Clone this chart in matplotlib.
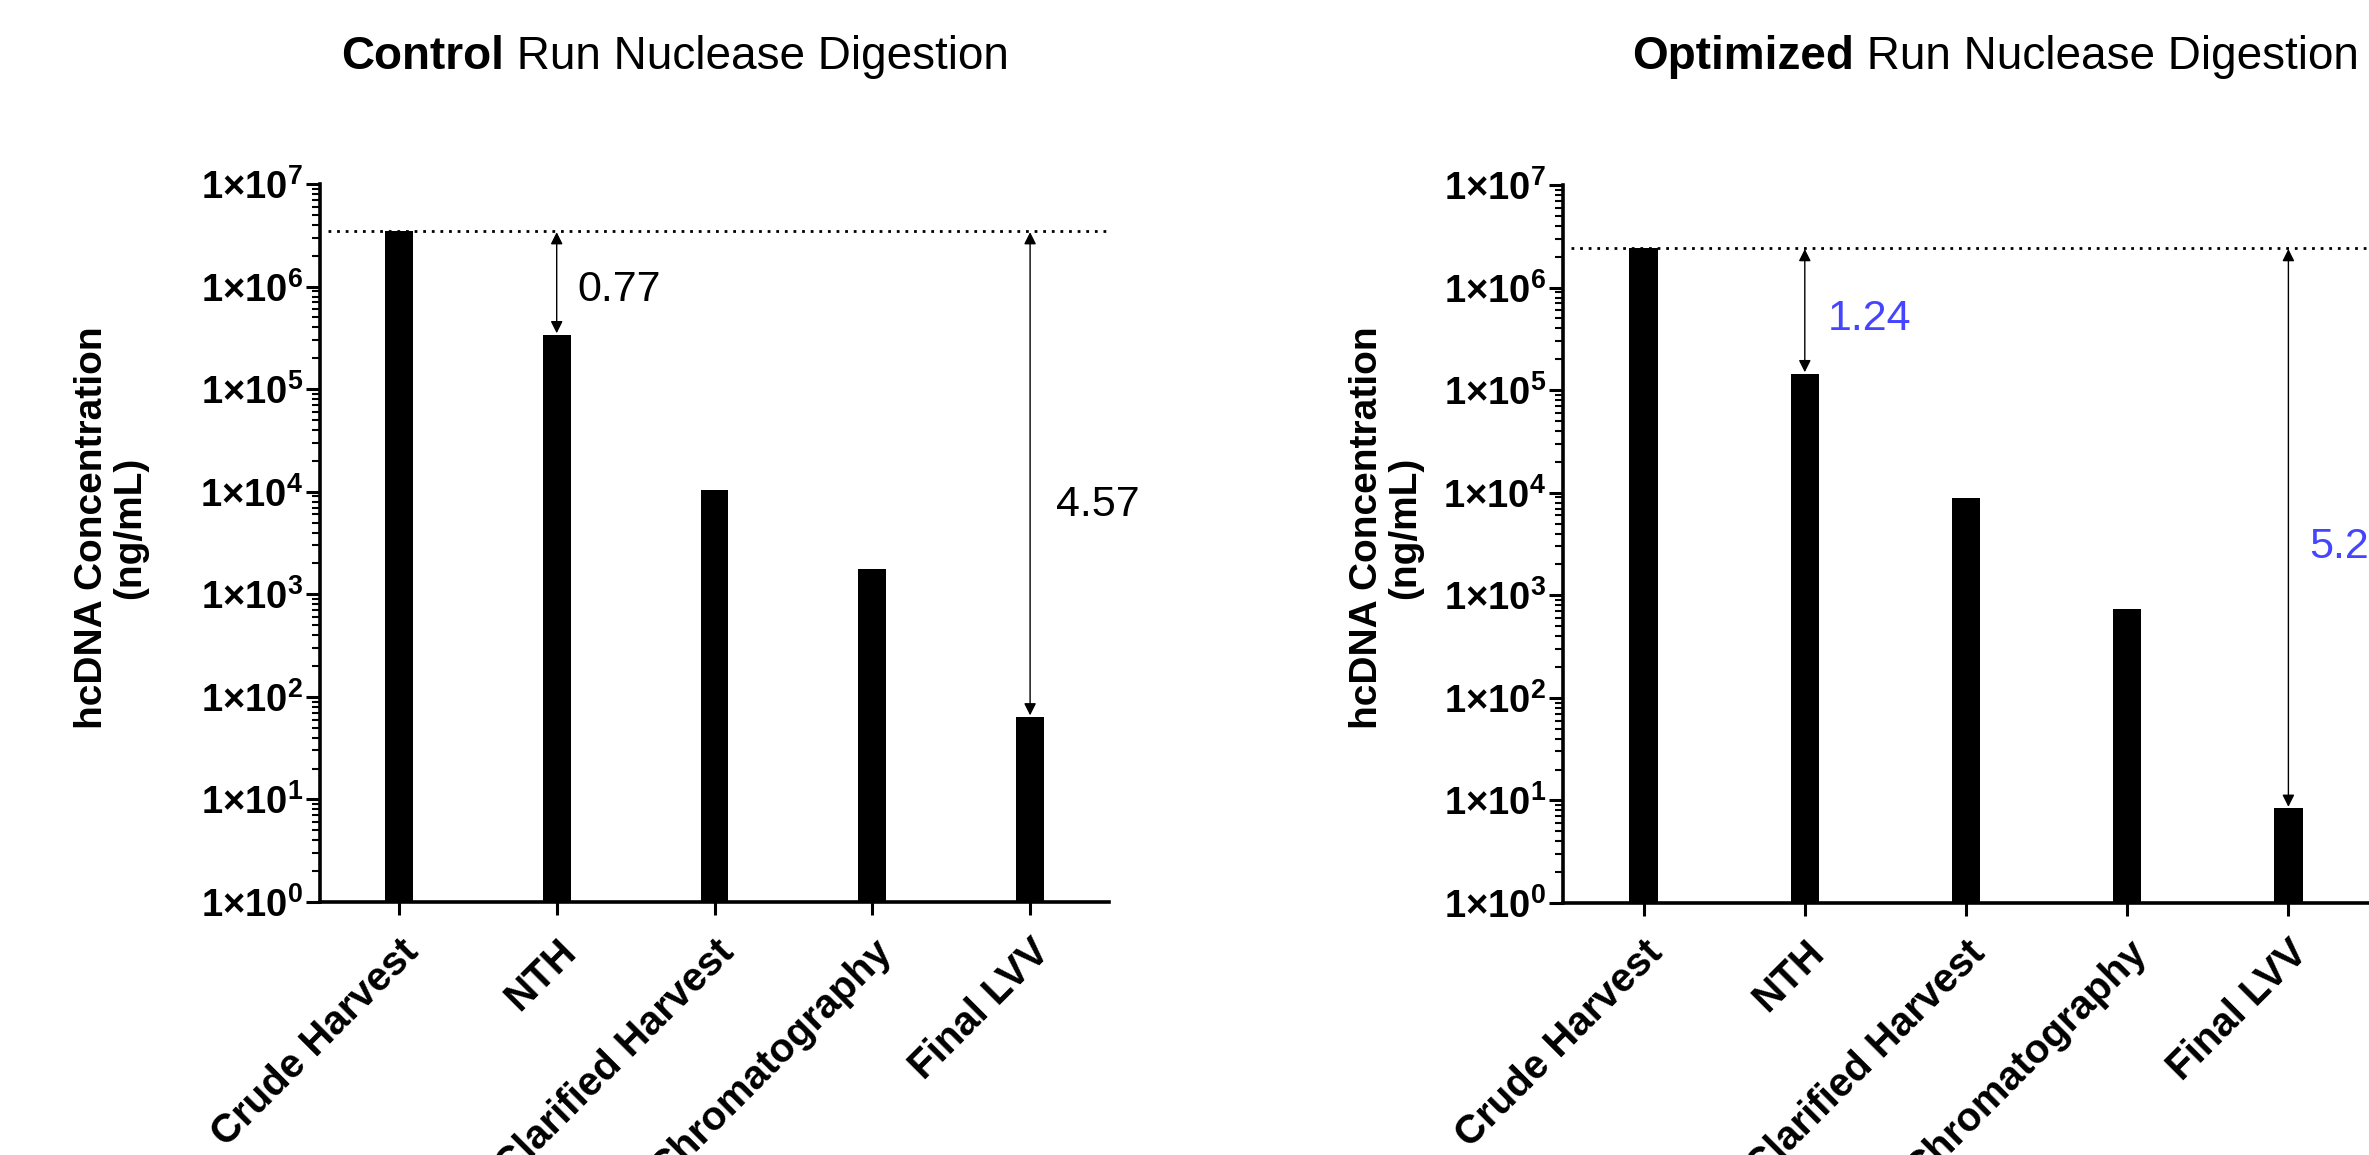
import matplotlib
matplotlib.use("Agg")
import matplotlib.pyplot as plt
from matplotlib.text import Annotation
from matplotlib.ticker import LogLocator, FixedLocator, NullFormatter

plt.rcParams['font.family'] = ['Liberation Sans', 'DejaVu Sans']
plt.rcParams['mathtext.fontset'] = 'custom'
plt.rcParams['mathtext.rm'] = 'Liberation Sans'
plt.rcParams['mathtext.bf'] = 'Liberation Sans:bold'

# ---------------- data ----------------
categories = ['Crude Harvest', 'NTH', 'Clarified Harvest', 'Chromatography', 'Final LVV']
control_values = [3.5e6, 3.4e5, 1.05e4, 1.75e3, 64]
optimized_values = [2.45e6, 1.45e5, 8.9e3, 730, 8.4]
ytick_values = [1e0, 1e1, 1e2, 1e3, 1e4, 1e5, 1e6, 1e7]
ytick_labels = [r'1×10$^{\mathbf{%d}}$' % e for e in range(8)]
control_reductions = ['0.77', '4.57']
optimized_reductions = ['1.24', '5.2']
titles_bold = ['Control', 'Optimized']
title_rest = ' Run Nuclease Digestion'
ylabel = 'hcDNA Concentration\n(ng/mL)'

W, H = 2369, 1155
fig = plt.figure(figsize=(W / 100, H / 100), dpi=100)

ax1 = fig.add_axes([320 / W, (H - 902) / H, 789 / W, 718 / H])
ax2 = fig.add_axes([1563 / W, (H - 903) / H, 806 / W, 718 / H])


def style_axes(ax, values, reductions, red_color, red_pos):
    ax.set_yscale('log')
    x = list(range(len(categories)))
    ax.bar(x, values, width=0.175, color='black', zorder=2)
    ax.set_ylim(1, 1e7)
    ax.set_xlim(-0.5, len(categories) - 0.5)
    for s in ['top', 'right']:
        ax.spines[s].set_visible(False)
    for s in ['left', 'bottom']:
        ax.spines[s].set_linewidth(2.6)
    ax.yaxis.set_major_locator(FixedLocator(ytick_values))
    ax.set_yticklabels(ytick_labels, fontsize=27.5, fontweight='bold')
    ax.yaxis.set_minor_locator(LogLocator(base=10, subs=range(2, 10), numticks=20))
    ax.yaxis.set_minor_formatter(NullFormatter())
    ax.tick_params(axis='y', which='major', length=10, width=2.2, pad=2, direction='out')
    ax.tick_params(axis='y', which='minor', length=6, width=1.5, direction='out')
    ax.set_xticks(x)
    ax.set_xticklabels(categories, rotation=45, ha='right', va='top',
                       rotation_mode='anchor', fontsize=29, fontweight='bold')
    ax.tick_params(axis='x', which='major', length=9, width=2.2, pad=13, direction='out')
    top = values[0]
    ax.axhline(top, xmin=0.01, xmax=1, color='black', lw=2, ls=(0, (1, 2.1)), zorder=3)
    for idx, txt, (dx, ylog) in zip([1, 4], reductions, red_pos):
        ax.annotate('', xy=(idx, values[idx]), xytext=(idx, top),
                    arrowprops=dict(arrowstyle='<|-|>', color='black', lw=1.0,
                                    mutation_scale=18, shrinkA=1, shrinkB=1),
                    zorder=4)
        ax.text(idx + dx, 10 ** ylog, txt, fontsize=31, color=red_color,
                ha='left', va='center', clip_on=False)


style_axes(ax1, control_values, control_reductions, 'black', [(0.13, 5.965), (0.165, 3.87)])
style_axes(ax2, optimized_values, optimized_reductions, '#4545ff', [(0.143, 5.69), (0.13, 3.47)])

# titles: bold first word followed by regular text
for xpx, bold in zip([341, 1632], titles_bold):
    t1 = fig.text(xpx / W, 1 - 69 / H, bold, fontsize=33, fontweight='bold',
                  ha='left', va='baseline')
    fig.add_artist(Annotation(title_rest, xy=(1, 0), xycoords=t1,
                              ha='left', va='bottom', fontsize=33))

# y labels
for xpx in [111, 1386]:
    fig.text(xpx / W, 1 - 528 / H, ylabel, rotation=90, ha='center', va='center',
             fontsize=28, fontweight='bold', multialignment='center', linespacing=1.1)

fig.savefig('out.png', dpi=100)
